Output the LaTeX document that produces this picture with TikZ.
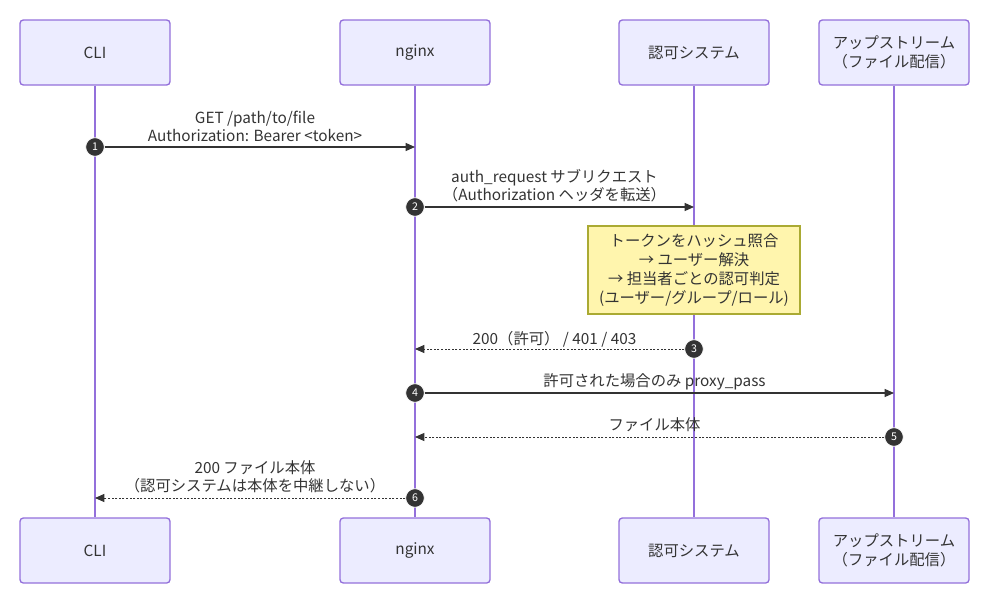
\documentclass[tikz,border=0pt]{standalone}
\usepackage{fontspec}
\setmainfont{Noto Sans CJK JP}
\usetikzlibrary{positioning,arrows.meta,calc}
\definecolor{actfill}{HTML}{ECECFF}
\definecolor{actline}{HTML}{9370DB}
\definecolor{notafill}{HTML}{FFF5AD}
\definecolor{notaline}{HTML}{AAAA33}
\definecolor{ink}{HTML}{333333}
\tikzset{
  actor/.style={draw=actline,fill=actfill,rounded corners=2.5pt,line width=1pt,align=center,
    minimum width=112.5pt,minimum height=48.75pt,inner sep=0pt,font=\fontsize{11.5}{14}\selectfont,text=ink},
  vida/.style={draw=actline,line width=1.2pt},
  msg/.style={-{Triangle[length=7pt,width=6pt]},line width=0.9pt,color=ink},
  resp/.style={msg,line width=0.7pt,dash pattern=on 1.5pt off 1.2pt},
  num/.style={circle,fill=ink,draw=white,line width=0.6pt,text=white,inner sep=0pt,minimum size=14pt,
    font=\fontsize{8}{8}\selectfont},
  etiq/.style={align=center,font=\fontsize{11.5}{13.5}\selectfont,text=ink,inner sep=0pt},
  nota/.style={draw=notaline,fill=notafill,line width=0.8pt,align=center,minimum width=159pt,minimum height=66pt,
    inner sep=0pt,font=\fontsize{11.5}{14.2}\selectfont,text=ink},
}
\begin{document}
\begin{tikzpicture}[x=0.75pt,y=-0.75pt]
  \useasboundingbox (0,0) rectangle (989,603);
  % actors top and bottom
  \node[actor] (cli) at (95,52.5) {CLI};
  \node[actor] (ngx) at (415,52.5) {nginx};
  \node[actor] (auth) at (694,52.5) {認可システム};
  \node[actor] (up) at (894,52.5) {アップストリーム\\（ファイル配信）};
  \node[actor] (cliB) at (95,550.5) {CLI};
  \node[actor] (ngxB) at (415,550.5) {nginx};
  \node[actor] (authB) at (694,550.5) {認可システム};
  \node[actor] (upB) at (894,550.5) {アップストリーム\\（ファイル配信）};
  \draw[vida] (cli.south) -- (cliB.north);
  \draw[vida] (ngx.south) -- (ngxB.north);
  \draw[vida] (auth.south) -- (authB.north);
  \draw[vida] (up.south) -- (upB.north);
  % note
  \node[nota] (n1) at (694,270) {トークンをハッシュ照合\\→ ユーザー解決\\→ 担当者ごとの認可判定\\(ユーザー/グループ/ロール)};
  % messages
  \node[num] (s1) at (95,147) {1};
  \coordinate (e1) at (415,147);
  \draw[msg] (s1) -- (e1);
  \node[etiq] at (255,126) {GET /path/to/file\\Authorization: Bearer <token>};
  \node[num] (s2) at (415,207) {2};
  \coordinate (e2) at (694,207);
  \draw[msg] (s2) -- (e2);
  \node[etiq] at (554.5,186) {auth\_request サブリクエスト\\（Authorization ヘッダを転送）};
  \node[num] (s3) at (694,349) {3};
  \coordinate (e3) at (415,349);
  \draw[resp] (s3) -- (e3);
  \node[etiq] at (554.5,339) {200（許可） / 401 / 403};
  \node[num] (s4) at (415,393) {4};
  \coordinate (e4) at (894,393);
  \draw[msg] (s4) -- (e4);
  \node[etiq] at (654.5,382) {許可された場合のみ proxy\_pass};
  \node[num] (s5) at (894,437) {5};
  \coordinate (e5) at (415,437);
  \draw[resp] (s5) -- (e5);
  \node[etiq] at (654.5,425) {ファイル本体};
  \node[num] (s6) at (415,498) {6};
  \coordinate (e6) at (95,498);
  \draw[resp] (s6) -- (e6);
  \node[etiq] at (255,477) {200 ファイル本体\\（認可システムは本体を中継しない）};
\end{tikzpicture}
\end{document}
